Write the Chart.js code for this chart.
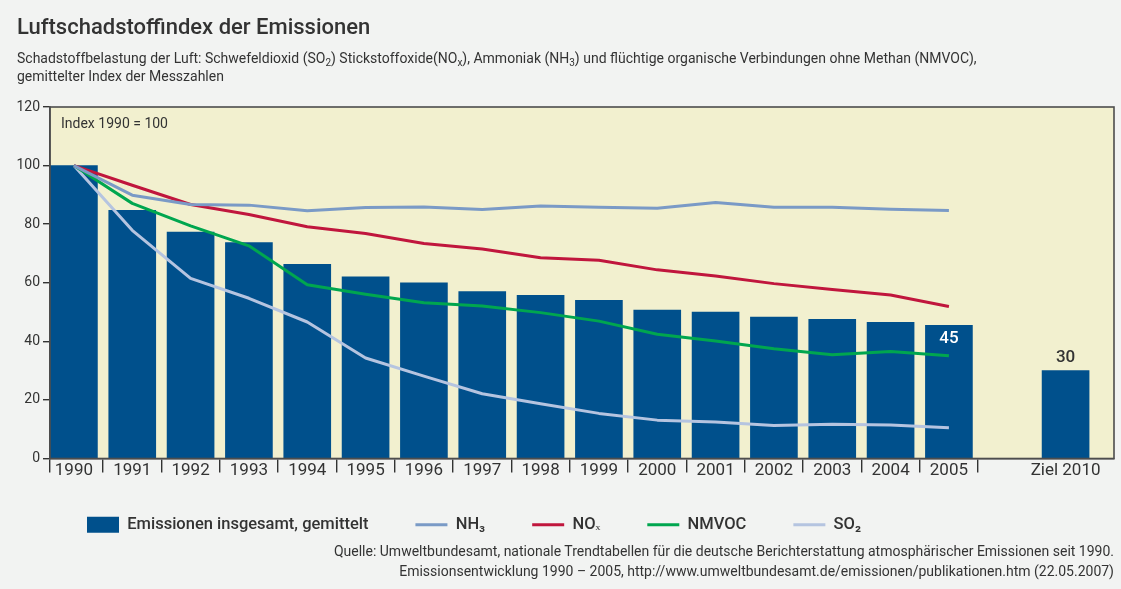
<!DOCTYPE html>
<html><head><meta charset="utf-8">
<script src="https://cdn.jsdelivr.net/npm/chart.js@4/dist/chart.umd.min.js"></script>
<style>
html,body{margin:0;padding:0;background:#f2f3f2;}
body{width:1121px;height:589px;position:relative;overflow:hidden;font-family:Roboto,"DejaVu Sans",sans-serif;color:#333;}
#title{position:absolute;left:17px;top:13px;font-size:22px;line-height:28px;font-weight:500;white-space:nowrap;}
#sub{position:absolute;left:17px;top:49px;font-size:14px;line-height:18px;white-space:nowrap;}
#sub sub{font-size:10px;vertical-align:-3px;line-height:0;}
#src{position:absolute;right:7px;top:541px;font-size:14px;line-height:20px;text-align:right;white-space:nowrap;}
canvas{position:absolute;left:0;top:0;}
</style></head>
<body>
<canvas id="c" width="1121" height="589"></canvas>
<div id="title">Luftschadstoffindex der Emissionen</div>
<div id="sub">Schadstoffbelastung der Luft: Schwefeldioxid (SO<sub>2</sub>) Stickstoffoxide(NO<sub>x</sub>), Ammoniak (NH<sub>3</sub>) und flüchtige organische Verbindungen ohne Methan (NMVOC),<br>gemittelter Index der Messzahlen</div>
<div id="src">Quelle: Umweltbundesamt, nationale Trendtabellen für die deutsche Berichterstattung atmosphärischer Emissionen seit 1990.<br>Emissionsentwicklung 1990 – 2005, http://www.umweltbundesamt.de/emissionen/publikationen.htm (22.05.2007)</div>
<script>
// ---- data ----
const categories = ['1990','1991','1992','1993','1994','1995','1996','1997','1998','1999','2000','2001','2002','2003','2004','2005','','Ziel 2010'];
const totals = [100,84.7,77.3,73.7,66.3,62,60,57,55.7,54,50.7,50,48.3,47.5,46.5,45.5,null,30];
const valueLabels = [null,null,null,null,null,null,null,null,null,null,null,null,null,null,null,'45',null,'30'];
const nh3   = [100,89.9,86.7,86.5,84.6,85.7,85.9,85.0,86.2,85.8,85.4,87.4,85.8,85.8,85.1,84.7];
const nox   = [100,93.3,86.7,83.3,79.1,76.8,73.4,71.5,68.5,67.7,64.4,62.3,59.7,57.7,55.8,51.9];
const nmvoc = [100,87.1,79.4,72.6,59.3,56.1,53.2,52.1,49.8,46.9,42.4,40.1,37.5,35.4,36.5,35.1];
const so2   = [100,77.9,61.5,54.7,46.6,34.3,28.1,22.1,18.7,15.4,13.1,12.5,11.3,11.7,11.4,10.5];
const yTicks = [0,20,40,60,80,100,120];
const seriesNames = ['Emissionen insgesamt, gemittelt','NH₃','NOₓ','NMVOC','SO₂'];

const FONT = 'Roboto';
const toPts = arr => arr.map((v,i)=>({x:i,y:v}));
const yearCount = nh3.length;

const framePlugin = {
  id:'frame',
  beforeDraw(chart){
    const {ctx, chartArea:a} = chart;
    ctx.save(); ctx.fillStyle='#f2f0cf';
    ctx.fillRect(a.left,a.top,a.right-a.left,a.bottom-a.top); ctx.restore();
  },
  afterDatasetsDraw(chart){
    const {ctx, chartArea:a} = chart;
    ctx.save();
    ctx.strokeStyle='#4d4d4d'; ctx.lineWidth=1.6;
    ctx.strokeRect(a.left,a.top,a.right-a.left,a.bottom-a.top);
    ctx.fillStyle='#333'; ctx.font='14px '+FONT; ctx.textBaseline='middle'; ctx.textAlign='left';
    ctx.fillText('Index 1990 = 100', a.left+11, a.top+17);
    const meta = chart.getDatasetMeta(0);
    ctx.textAlign='center'; ctx.font='500 17px '+FONT;
    valueLabels.forEach((t,i)=>{
      if(!t) return;
      const el = meta.data[i];
      const inside = totals[i] > 40;
      ctx.fillStyle = inside ? '#ffffff' : '#333';
      ctx.fillText(t, el.x, inside ? el.y+14 : el.y-13);
    });
    ctx.restore();
  }
};

const noClip = s => { s._computeLabelArea = () => undefined; };
const lineDs = (label,data,color)=>({type:'line',label,data:toPts(data),borderColor:color,backgroundColor:color,borderWidth:3,pointRadius:0,pointHoverRadius:0,tension:0,borderJoinStyle:'round',pointStyle:'line',order:0});

new Chart(document.getElementById('c'),{
  type:'bar',
  data:{datasets:[
    {type:'bar',label:seriesNames[0],data:toPts(totals),backgroundColor:'#00508c',borderWidth:0,barThickness:47,pointStyle:'rect',order:1},
    lineDs(seriesNames[1],nh3,'#7a9ac6'),
    lineDs(seriesNames[2],nox,'#c0163d'),
    lineDs(seriesNames[3],nmvoc,'#00a64f'),
    lineDs(seriesNames[4],so2,'#b5c4e0')
  ]},
  options:{
    responsive:false, animation:false,
    layout:{padding:{left:40,right:7,top:107,bottom:46}},
    plugins:{
      tooltip:{enabled:false},
      legend:{position:'bottom',align:'start',
        labels:{sort:(a,b)=>a.datasetIndex-b.datasetIndex,
          usePointStyle:true,pointStyleWidth:32,boxHeight:16,padding:47,color:'#333',font:{family:FONT,size:16.5,weight:'500'}}}
    },
    scales:{
      x:{type:'linear',min:-0.41,max:17.83,offset:false,
        afterBuildTicks(s){
          const t=[{value:-0.41}];
          categories.forEach((c,i)=>{ if(c) t.push({value:i}); if(i<yearCount) t.push({value:i+0.5}); });
          t.sort((p,q)=>p.value-q.value);
          s.ticks=t;
        },
        afterFit(s){s.height=11; noClip(s);},
        ticks:{autoSkip:false,maxRotation:0,color:'#333',padding:-10.5,font:{family:FONT,size:17,lineHeight:1},
          callback:v=>Number.isInteger(v)?categories[v]:''},
        grid:{offset:false,drawOnChartArea:false,tickLength:14,lineWidth:1.4,
          color:c=>(c.tick && Number.isInteger(c.tick.value))?'rgba(0,0,0,0)':'#333'},
        border:{color:'#4d4d4d',width:1.6}
      },
      y:{min:0,max:120,
        afterBuildTicks(s){s.ticks=yTicks.map(v=>({value:v}));},
        afterFit(s){s.width=10; noClip(s);},
        ticks:{color:'#333',padding:3,font:{family:FONT,size:14}},
        grid:{drawOnChartArea:false,tickLength:7,lineWidth:1.4,color:'#333'},
        border:{color:'#4d4d4d',width:1.6}
      }
    }
  },
  plugins:[framePlugin]
});
</script>
</body></html>
